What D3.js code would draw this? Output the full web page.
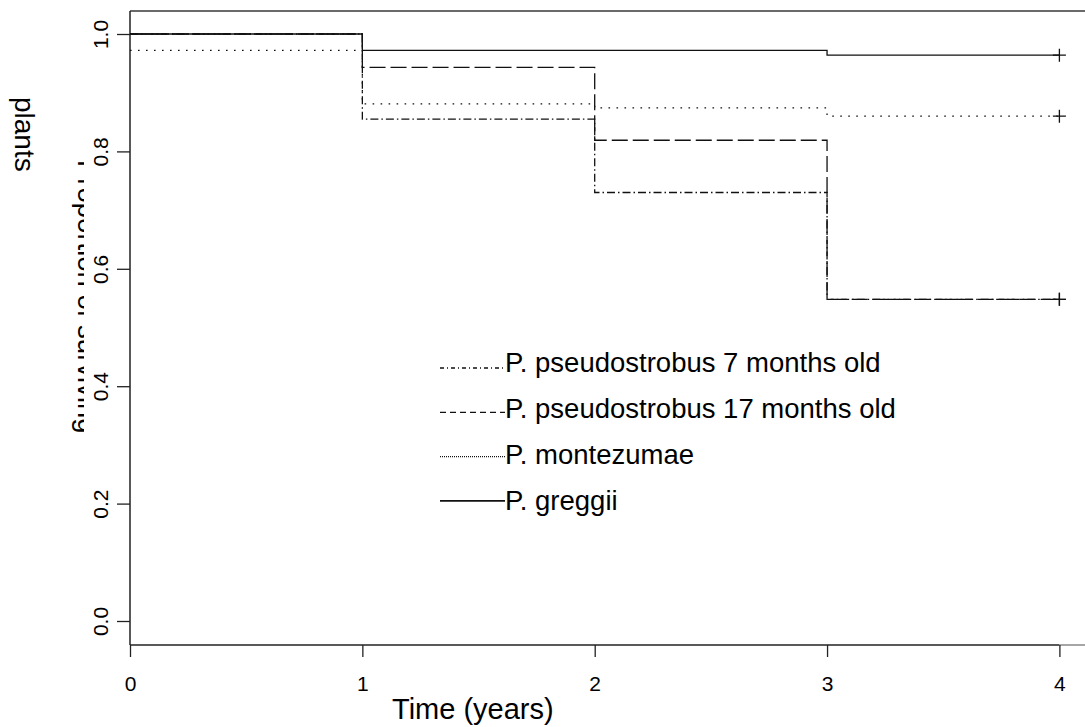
<!DOCTYPE html>
<html>
<head>
<meta charset="utf-8">
<script src="https://cdn.jsdelivr.net/npm/d3@7"></script>
<style>
  html, body { margin: 0; padding: 0; background: #fff; }
  svg { display: block; font-family: "Liberation Sans", Arial, sans-serif; }
</style>
</head>
<body>
<svg id="chart" width="1085" height="727"></svg>
<script>
// Survival (Kaplan-Meier) estimates per species, at the start of each year
const times = [0, 1, 2, 3, 4];
const pseudo7 = [1.000, 0.855, 0.730, 0.548, 0.548];
const pseudo17 = [1.000, 0.943, 0.819, 0.548, 0.548];
const montezumae = [0.972, 0.881, 0.874, 0.860, 0.860];
const greggii = [1.000, 0.972, 0.972, 0.964, 0.964];

const seriesNames = [
  "P. pseudostrobus 7 months old",
  "P. pseudostrobus 17 months old",
  "P. montezumae",
  "P. greggii"
];
const xTicks = [0, 1, 2, 3, 4];
const yTicks = [0.0, 0.2, 0.4, 0.6, 0.8, 1.0];

const svg = d3.select("#chart");
const x = d3.scaleLinear().domain([0, 4]).range([130, 1059.4]);
const y = d3.scaleLinear().domain([0, 1]).range([621, 34]);

const ink = "#111";

// line styles for the curves and the legend samples
const styles = [
  { values: pseudo7,    dash: "8,3,1.5,3", legendDash: "4,3,1,3", width: 1.3 },
  { values: pseudo17,   dash: "16,5",      legendDash: "6,4",     width: 1.3 },
  { values: montezumae, dash: "1.6,6.4",   legendDash: "1,1",     width: 1.3 },
  { values: greggii,    dash: null,        legendDash: null,      width: 1.3 }
];

// plot frame: left, top and bottom edges
const frame = svg.append("g");
frame.append("line").attr("x1", 130).attr("x2", 1085).attr("y1", 11).attr("y2", 11)
  .attr("stroke", "#6a6a6a").attr("stroke-width", 2);
frame.append("line").attr("x1", 130).attr("x2", 130).attr("y1", 11).attr("y2", 645)
  .attr("stroke", "#222").attr("stroke-width", 1.5);
frame.append("line").attr("x1", 130).attr("x2", x(4)).attr("y1", 645).attr("y2", 645)
  .attr("stroke", "#222").attr("stroke-width", 1.5);
frame.append("line").attr("x1", x(4)).attr("x2", 1085).attr("y1", 645).attr("y2", 645)
  .attr("stroke", "#888").attr("stroke-width", 1.5);

// x axis
const xAxis = svg.append("g").attr("transform", "translate(0,645)")
  .call(d3.axisBottom(x).tickValues(xTicks).tickSize(12).tickFormat(d3.format("d")));
xAxis.select(".domain").remove();
xAxis.selectAll(".tick line").attr("stroke", "#222").attr("stroke-width", 1.3);
xAxis.selectAll(".tick text")
  .attr("y", 46).attr("dy", null)
  .attr("fill", "#000").style("font-size", "21px")
  .style("font-family", "'Liberation Sans', Arial, sans-serif");

// y axis with labels turned to read upward
const yAxis = svg.append("g").attr("transform", "translate(130,0)")
  .call(d3.axisLeft(y).tickValues(yTicks).tickSize(13).tickFormat(d3.format(".1f")));
yAxis.select(".domain").remove();
yAxis.selectAll(".tick line").attr("stroke", "#222").attr("stroke-width", 1.3);
yAxis.selectAll(".tick text")
  .attr("x", null).attr("dy", null)
  .attr("text-anchor", "middle")
  .attr("transform", "translate(-22,0) rotate(-90)")
  .attr("fill", "#000").style("font-size", "21px")
  .style("font-family", "'Liberation Sans', Arial, sans-serif");

// axis titles
svg.append("text").attr("x", 392).attr("y", 719)
  .style("font-size", "29px").attr("fill", "#000").text("Time (years)");

// first line of the y title, partly hidden behind the tick labels
svg.append("defs").append("clipPath").attr("id", "ylabClip")
  .append("rect").attr("x", 0).attr("y", 0).attr("width", 84).attr("height", 727);
svg.append("g")
  .attr("clip-path", "url(#ylabClip)")
  .append("text")
  .attr("transform", "translate(78,160) rotate(90)")
  .style("font-size", "27.5px").attr("fill", "#000")
  .text("Proportion of surviving");
svg.append("text")
  .attr("transform", "translate(15,97) rotate(90)")
  .style("font-size", "28px").attr("fill", "#000")
  .text("plants");

// survival step curves
const step = d3.line()
  .x((d, i) => x(times[i]))
  .y(d => y(d))
  .curve(d3.curveStepAfter);

const curves = svg.append("g");
styles.forEach(s => {
  curves.append("path")
    .attr("d", step(s.values))
    .attr("fill", "none")
    .attr("stroke", ink)
    .attr("stroke-width", s.width)
    .attr("stroke-dasharray", s.dash);
});

// censoring marks at the end of follow-up
const cross = 6.5;
styles.forEach(s => {
  const cx = x(times[times.length - 1]);
  const cy = y(s.values[s.values.length - 1]);
  curves.append("path")
    .attr("d", `M${cx - cross},${cy}H${cx + cross}M${cx},${cy - cross}V${cy + cross}`)
    .attr("stroke", ink).attr("stroke-width", 1.3).attr("fill", "none");
});

// legend
const legend = svg.append("g");
styles.forEach((s, i) => {
  const ly = 368 + i * 44.3;
  legend.append("line")
    .attr("x1", 440).attr("x2", 505).attr("y1", ly).attr("y2", ly)
    .attr("stroke", ink)
    .attr("stroke-width", i === 3 ? 1.8 : 1.3)
    .attr("stroke-dasharray", s.legendDash);
  legend.append("text")
    .attr("x", 505).attr("y", 372 + i * 46)
    .style("font-size", "27.5px").attr("fill", "#000")
    .text(seriesNames[i]);
});
</script>
</body>
</html>
